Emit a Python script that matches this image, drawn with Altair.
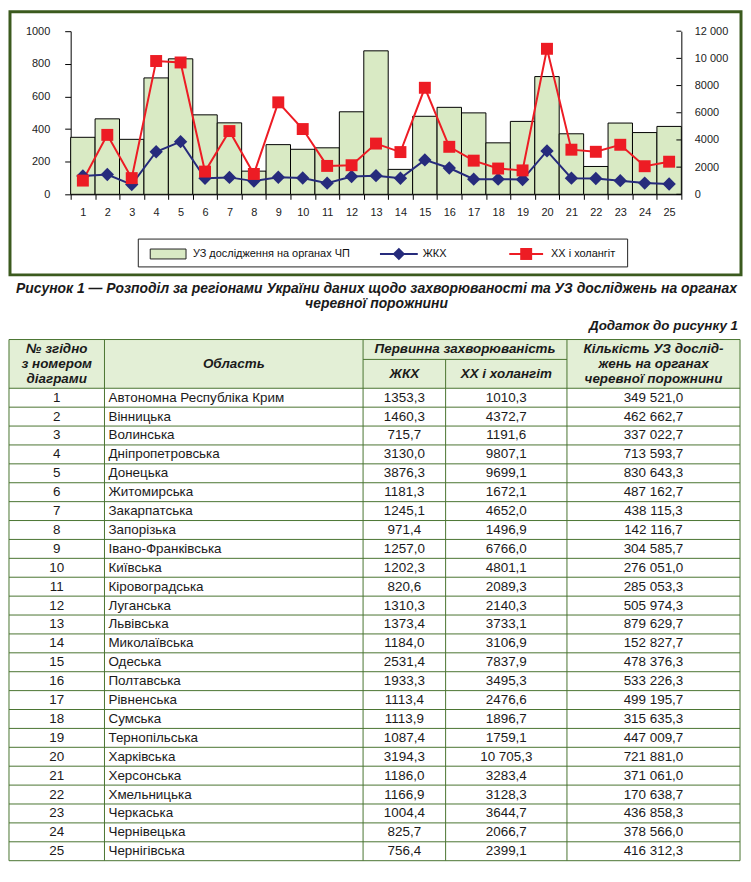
import altair as alt
import pandas as pd

# ---------------- data ----------------
NUMS = list(range(1, 26))
REGIONS = ["Автономна Республіка Крим", "Вінницька", "Волинська", "Дніпропетровська",
           "Донецька", "Житомирська", "Закарпатська", "Запорізька", "Івано-Франківська",
           "Київська", "Кіровоградська", "Луганська", "Львівська", "Миколаївська",
           "Одеська", "Полтавська", "Рівненська", "Сумська", "Тернопільська",
           "Харківська", "Херсонська", "Хмельницька", "Черкаська", "Чернівецька",
           "Чернігівська"]
ZKH = [1353.3, 1460.3, 715.7, 3130.0, 3876.3, 1181.3, 1245.1, 971.4, 1257.0, 1202.3,
       820.6, 1310.3, 1373.4, 1184.0, 2531.4, 1933.3, 1113.4, 1113.9, 1087.4, 3194.3,
       1186.0, 1166.9, 1004.4, 825.7, 756.4]
XX = [1010.3, 4372.7, 1191.6, 9807.1, 9699.1, 1672.1, 4652.0, 1496.9, 6766.0, 4801.1,
      2089.3, 2140.3, 3733.1, 3106.9, 7837.9, 3495.3, 2476.6, 1896.7, 1759.1, 10705.3,
      3283.4, 3128.3, 3644.7, 2066.7, 2399.1]
UZ = [349521.0, 462662.7, 337022.7, 713593.7, 830643.3, 487162.7, 438115.3, 142116.7,
      304585.7, 276051.0, 285053.3, 505974.3, 879629.7, 152827.7, 478376.3, 533226.3,
      499195.7, 315635.3, 447009.7, 721881.0, 371061.0, 170638.7, 436858.3, 378566.0,
      416312.3]
SERIES = ["УЗ дослідження на органах ЧП", "ЖКХ", "ХХ і холангіт"]
Y_LEFT_TICKS = [0, 200, 400, 600, 800, 1000]
Y_RIGHT_TICKS = [0, 2000, 4000, 6000, 8000, 10000, 12000]
CAPTION = ["Рисунок 1 — Розподіл за регіонами України даних щодо захворюваності та УЗ досліджень на органах",
           "черевної порожнини"]
APPENDIX = "Додаток до рисунку 1"
HEAD_NUM = ["№ згідно", "з номером", "діаграми"]
HEAD_REGION = "Область"
HEAD_GROUP = "Первинна захворюваність"
HEAD_ZKH = "ЖКХ"
HEAD_XX = "ХХ і холангіт"
HEAD_UZ = ["Кількість УЗ дослід-", "жень на органах", "черевної порожнини"]

# ---------------- styles ----------------
FRAME = "#3b5a1e"
BAR_FILL = "#d9eac4"
NAVY = "#262b7c"
RED = "#ed1c24"
GRID = "#4a7430"
HEAD_FILL = "#e3efd6"
TXT = "#1a1a1a"
FONT = "Liberation Sans, Arial, Helvetica, sans-serif"

PW, PH = 614, 164


def fmt(v):
    s = f"{v:.1f}"
    ip, dp = s.split(".")
    if v >= 10000:
        groups = []
        while len(ip) > 3:
            groups.insert(0, ip[-3:])
            ip = ip[:-3]
        groups.insert(0, ip)
        ip = " ".join(groups)
    return ip + "," + dp


df = pd.DataFrame({"num": NUMS, "region": REGIONS, "zkh": ZKH, "xx": XX, "uz": UZ})
one = alt.Data(values=[{"a": 1}])

# ---------------- chart panel ----------------
base = alt.Chart(df)
X = alt.X("num:O", title=None, scale=alt.Scale(paddingInner=0, paddingOuter=0),
          axis=alt.Axis(labelAngle=0, tickBand="extent", tickSize=5, labelPadding=7))


def yr(field):
    return alt.Y(f"{field}:Q", title=None,
                 scale=alt.Scale(domain=[0, 12000], nice=False),
                 axis=alt.Axis(orient="right", values=Y_RIGHT_TICKS, tickSize=0, labelPadding=13,
                               labelExpr="datum.value >= 10000 ? replace(format(datum.value, ','), ',', ' ') : format(datum.value, 'd')"))


bars = base.transform_calculate(uz_k="datum.uz / 1000").mark_bar(
    fill=BAR_FILL, stroke="black", strokeWidth=1).encode(
    x=X,
    y=alt.Y("uz_k:Q", title=None, scale=alt.Scale(domain=[0, 1000], nice=False),
            axis=alt.Axis(orient="left", values=Y_LEFT_TICKS, tickSize=6, labelPadding=15, format="d")))

rticks = alt.Chart(pd.DataFrame({"v": Y_RIGHT_TICKS})).mark_rule(color="black", strokeWidth=1).encode(
    y=yr("v"), x=alt.value(PW - 5), x2=alt.value(PW))
line_z = base.mark_line(color=NAVY, strokeWidth=2).encode(x=X, y=yr("zkh"))
line_x = base.mark_line(color=RED, strokeWidth=2).encode(x=X, y=yr("xx"))
pts_z = base.mark_point(shape="diamond", filled=True, size=180, color=NAVY, opacity=1).encode(x=X, y=yr("zkh"))
pts_x = base.mark_point(shape="square", filled=True, size=144, color=RED, opacity=1).encode(x=X, y=yr("xx"))
right = alt.layer(rticks, line_z, line_x, pts_z, pts_x)

frame = alt.Chart(one).mark_rect(fillOpacity=0, stroke=FRAME, strokeWidth=3).encode(
    x=alt.value(-61), x2=alt.value(674), y=alt.value(-19.5), y2=alt.value(245))
leg_box = alt.Chart(one).mark_rect(fill="white", stroke="#222", strokeWidth=1).encode(
    x=alt.value(68), x2=alt.value(560), y=alt.value(209), y2=alt.value(237))
leg_rect = alt.Chart(one).mark_rect(fill=BAR_FILL, stroke="#222", strokeWidth=1).encode(
    x=alt.value(80), x2=alt.value(116), y=alt.value(219), y2=alt.value(229))
leg_df = pd.DataFrame({"label": SERIES})
leg_t = lambda i, xp: alt.Chart(leg_df).transform_filter(f"datum.label == '{SERIES[i]}'").mark_text(
    align="left", baseline="middle", font=FONT, fontSize=11, color="#111").encode(
    x=alt.value(xp), y=alt.value(224), text="label:N")
leg_rz = alt.Chart(one).mark_rule(color=NAVY, strokeWidth=2).encode(x=alt.value(311), x2=alt.value(349), y=alt.value(224))
leg_pz = alt.Chart(one).mark_point(shape="diamond", filled=True, size=160, color=NAVY, opacity=1).encode(
    x=alt.value(330), y=alt.value(224))
leg_rx = alt.Chart(one).mark_rule(color=RED, strokeWidth=2).encode(x=alt.value(441), x2=alt.value(475), y=alt.value(224))
leg_px = alt.Chart(one).mark_point(shape="square", filled=True, size=144, color=RED, opacity=1).encode(
    x=alt.value(458), y=alt.value(224))

chart = alt.layer(frame, leg_box, leg_rect, leg_t(0, 123), leg_rz, leg_pz, leg_t(1, 354),
                  leg_rx, leg_px, leg_t(2, 483), bars, right).resolve_scale(y="independent").properties(
    width=PW, height=PH)

# ---------------- table panel ----------------
TX0 = -62          # table left edge, relative to the chart's plot origin (shared column origin)
TW = 735
COLS = [0, 96, 356, 439, 561, 735]
HDR = 49
SPLIT = 20
ROWH = 19.0
TH = HDR + 25 * ROWH

tdf = pd.DataFrame({"num": [str(n) for n in NUMS], "region": REGIONS,
                    "zkh_s": [fmt(v) for v in ZKH], "xx_s": [fmt(v) for v in XX],
                    "uz_s": [fmt(v) for v in UZ], "row": list(range(25))})
tdf["yc"] = tdf["row"] + 0.5
ROWY = alt.Scale(domain=[0, 25], range=[HDR, TH], nice=False, zero=False)
EDGEX = alt.Scale(domain=[0, TW], range=[TX0, TX0 + TW], nice=False, zero=False)


def cx(a, b):
    return TX0 + (COLS[a] + COLS[b]) / 2


def col_text(field, xpos, align):
    return alt.Chart(tdf).mark_text(align=align, baseline="middle", font=FONT, fontSize=13.5,
                                    color=TXT).encode(
        x=alt.value(xpos), y=alt.Y("yc:Q", scale=ROWY, axis=None), text=f"{field}:N")


def head_text(txt, xpos, ypos, size=13.5):
    return alt.Chart(one).mark_text(align="center", baseline="middle", font=FONT, fontSize=size,
                                    fontWeight="bold", fontStyle="italic", color=TXT,
                                    lineHeight=15).encode(
        x=alt.value(xpos), y=alt.value(ypos), text=alt.value(txt))


head_fill = alt.Chart(one).mark_rect(fill=HEAD_FILL).encode(
    x=alt.value(TX0), x2=alt.value(TX0 + TW), y=alt.value(0), y2=alt.value(HDR))
hlines = alt.Chart(pd.DataFrame({"k": list(range(26))})).mark_rule(color=GRID, strokeWidth=1).encode(
    y=alt.Y("k:Q", scale=ROWY, axis=None), x=alt.value(TX0), x2=alt.value(TX0 + TW))
top_line = alt.Chart(one).mark_rule(color=GRID, strokeWidth=1).encode(
    y=alt.value(0), x=alt.value(TX0), x2=alt.value(TX0 + TW))
split_line = alt.Chart(one).mark_rule(color=GRID, strokeWidth=1).encode(
    y=alt.value(SPLIT), x=alt.value(TX0 + COLS[2]), x2=alt.value(TX0 + COLS[4]))
vfull = alt.Chart(pd.DataFrame({"e": [COLS[0], COLS[1], COLS[2], COLS[4], COLS[5]]})).mark_rule(
    color=GRID, strokeWidth=1).encode(x=alt.X("e:Q", scale=EDGEX, axis=None), y=alt.value(0), y2=alt.value(TH))
vpart = alt.Chart(pd.DataFrame({"e": [COLS[3]]})).mark_rule(color=GRID, strokeWidth=1).encode(
    x=alt.X("e:Q", scale=EDGEX, axis=None), y=alt.value(SPLIT), y2=alt.value(TH))

caption = alt.Chart(one).mark_text(align="center", baseline="middle", font=FONT, fontSize=14,
                                   fontWeight="bold", fontStyle="italic", color=TXT, lineHeight=15).encode(
    x=alt.value(TX0 + TW / 2 + 2), y=alt.value(-51), text=alt.value(CAPTION))
appendix = alt.Chart(one).mark_text(align="right", baseline="middle", font=FONT, fontSize=13.5,
                                    fontWeight="bold", fontStyle="italic", color=TXT).encode(
    x=alt.value(TX0 + TW - 2), y=alt.value(-14), text=alt.value(APPENDIX))

table = alt.layer(
    head_fill, hlines, top_line, split_line, vfull, vpart,
    head_text(HEAD_NUM, cx(0, 1), 10),
    head_text(HEAD_REGION, cx(1, 2), 25),
    head_text(HEAD_GROUP, cx(2, 4), 10),
    head_text(HEAD_ZKH, cx(2, 3), 35),
    head_text(HEAD_XX, cx(3, 4), 35),
    head_text(HEAD_UZ, cx(4, 5), 10),
    col_text("num", cx(0, 1), "center"),
    col_text("region", TX0 + COLS[1] + 4, "left"),
    col_text("zkh_s", cx(2, 3), "center"),
    col_text("xx_s", cx(3, 4), "center"),
    col_text("uz_s", cx(4, 5), "center"),
    caption, appendix,
).properties(width=PW, height=TH)

final = alt.vconcat(chart, table, spacing=5, padding=0, background="white").configure_view(
    strokeWidth=0).configure_axis(
    labelFont=FONT, labelFontSize=11, labelColor="#222", domainColor="black", tickColor="black",
    grid=False)

final.save("out.html", embed_options={"renderer": "svg", "actions": False})
